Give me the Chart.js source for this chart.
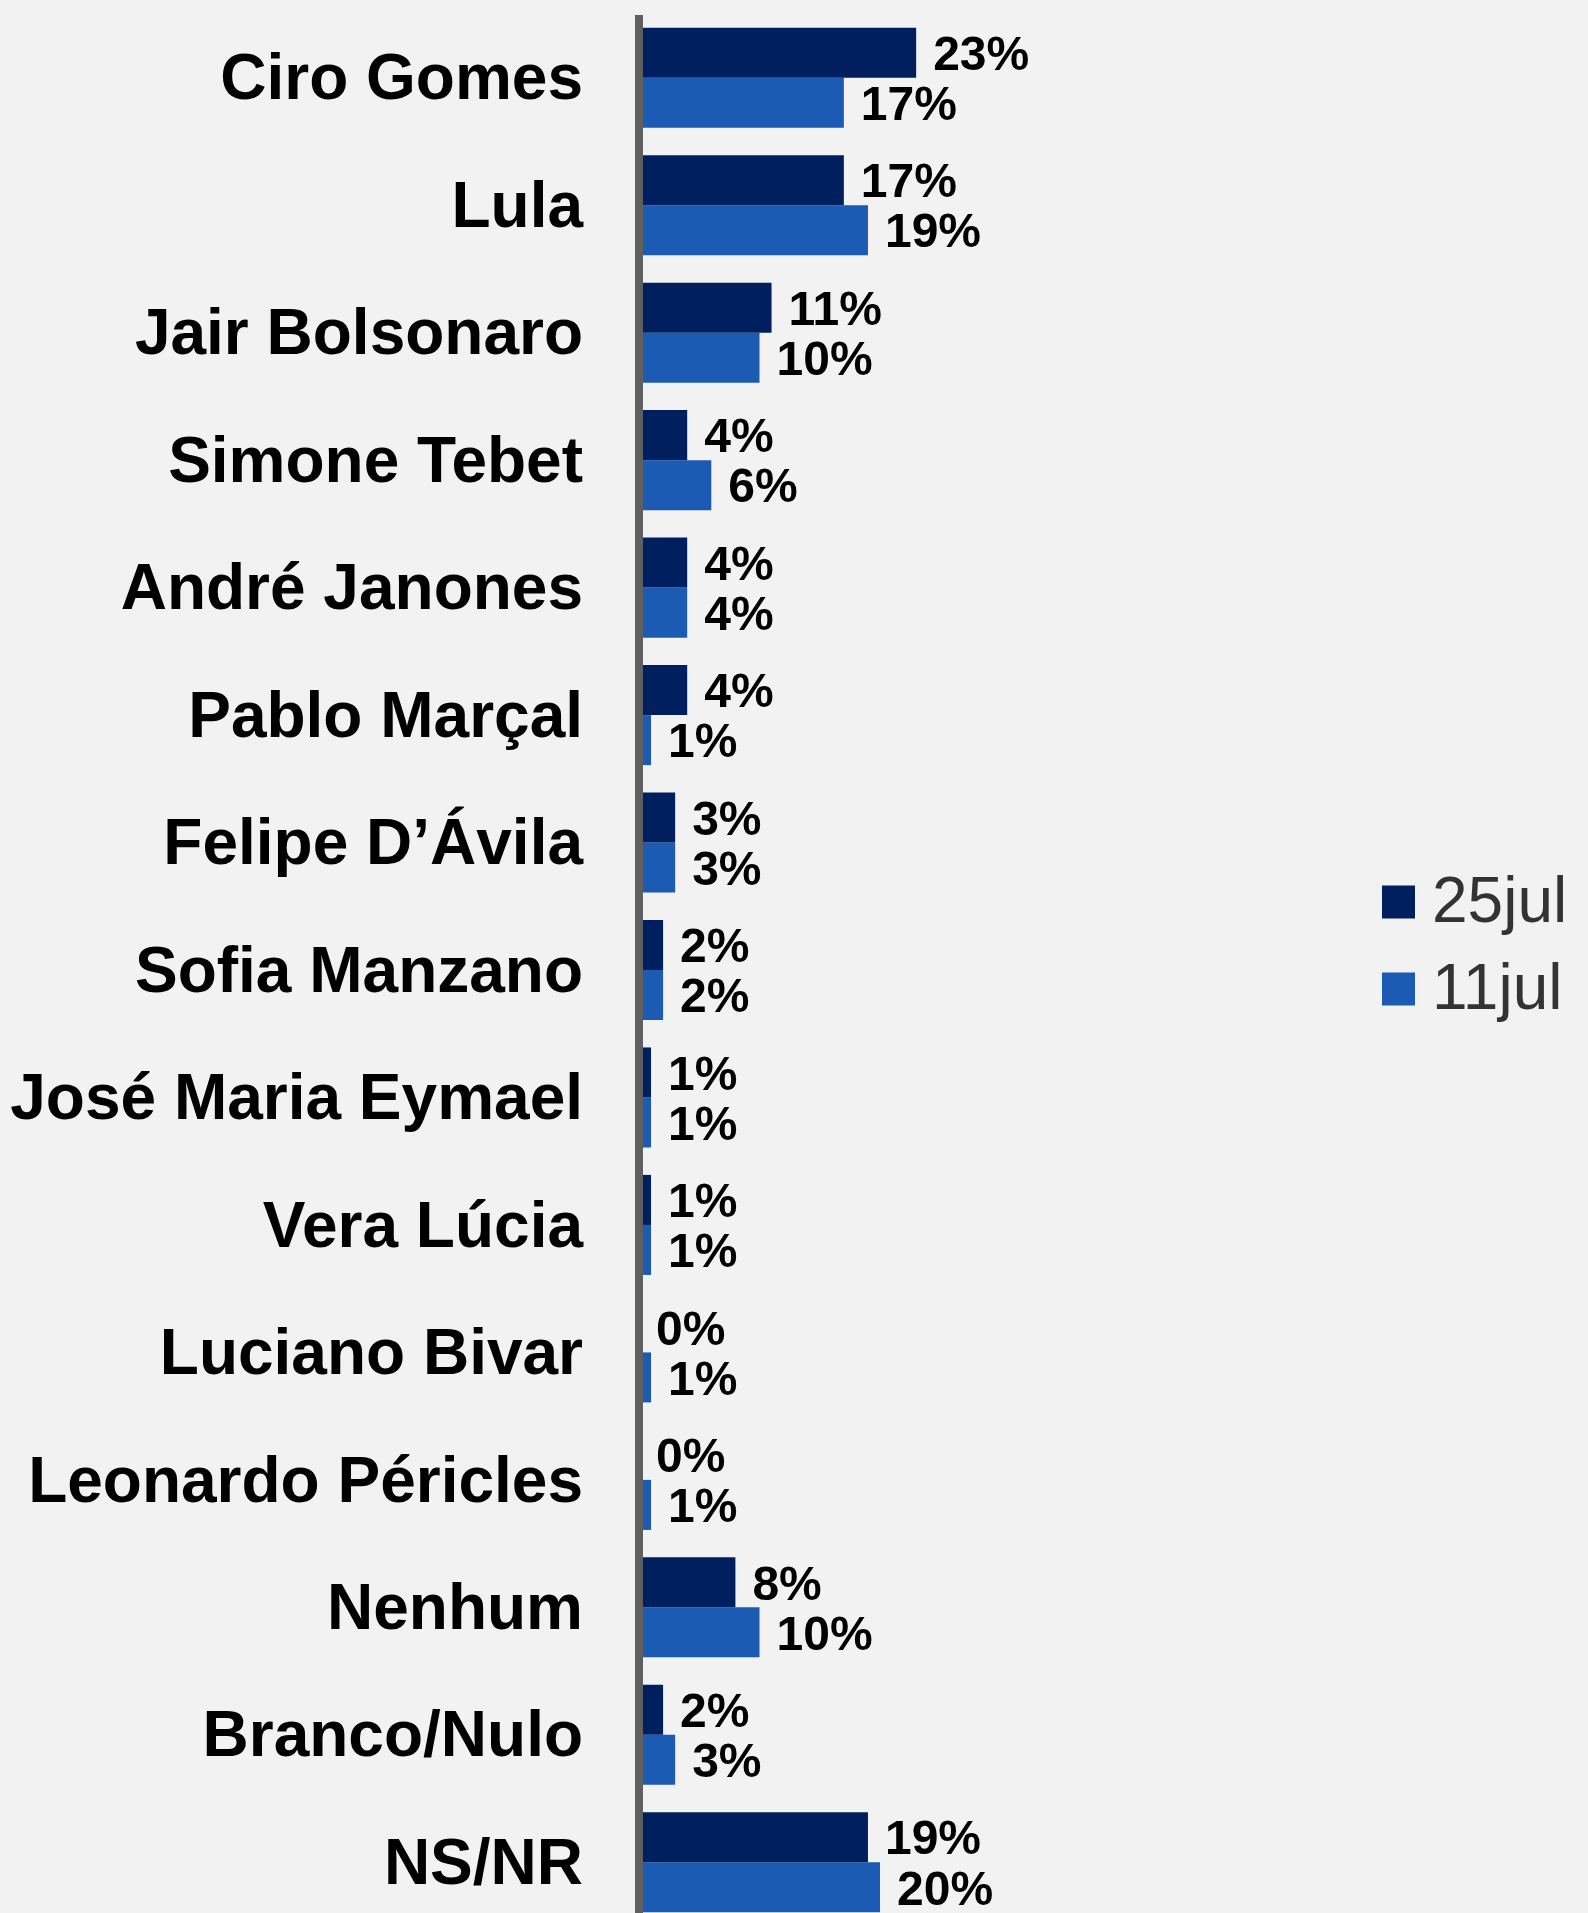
<!DOCTYPE html>
<html>
<head>
<meta charset="utf-8">
<script src="https://cdn.jsdelivr.net/npm/chart.js@4.4.1/dist/chart.umd.min.js"></script>
<style>
  html, body { margin: 0; padding: 0; background: #f2f2f2; overflow: hidden; }
  #wrap { width: 1588px; height: 1926px; }
  canvas { background: #f2f2f2; }
</style>
</head>
<body>
<div id="wrap"><canvas id="pollChart" width="1588" height="1926"></canvas></div>
<script>
const candidates = [
  "Ciro Gomes", "Lula", "Jair Bolsonaro", "Simone Tebet", "André Janones",
  "Pablo Marçal", "Felipe D’Ávila", "Sofia Manzano", "José Maria Eymael",
  "Vera Lúcia", "Luciano Bivar", "Leonardo Péricles", "Nenhum", "Branco/Nulo", "NS/NR"
];
const jul25 = [23, 17, 11, 4, 4, 4, 3, 2, 1, 1, 0, 0, 8, 2, 19];
const jul11 = [17, 19, 10, 6, 4, 1, 3, 2, 1, 1, 1, 1, 10, 3, 20];
const seriesNames = ["25jul", "11jul"];

const fontFamily = '"Liberation Sans", Arial, sans-serif';

// rótulos de valor + linha do eixo por cima das barras
const valueLabels = {
  id: "valueLabels",
  afterDatasetsDraw(chart) {
    const ctx = chart.ctx;
    const x0 = chart.scales.x.getPixelForValue(0);
    ctx.save();
    ctx.strokeStyle = "#5f5f5f";
    ctx.lineWidth = 8;
    ctx.beginPath();
    ctx.moveTo(x0, chart.chartArea.top + 1);
    ctx.lineTo(x0, chart.height);
    ctx.stroke();

    ctx.font = "bold 48px " + fontFamily;
    ctx.fillStyle = "#000";
    ctx.textBaseline = "middle";
    chart.data.datasets.forEach((ds, i) => {
      chart.getDatasetMeta(i).data.forEach((bar, j) => {
        ctx.fillText(ds.data[j] + "%", bar.x + 17, bar.y + 4);
      });
    });
    ctx.restore();
  }
};

const sideLegend = {
  id: "sideLegend",
  afterDraw(chart, args, opts) {
    const ctx = chart.ctx;
    ctx.save();
    ctx.font = "64px " + fontFamily;
    ctx.textBaseline = "middle";
    chart.data.datasets.forEach((ds, i) => {
      const cy = opts.y + i * opts.rowGap;
      ctx.fillStyle = ds.backgroundColor;
      ctx.fillRect(opts.x, cy - opts.box / 2, opts.box, opts.box);
      ctx.fillStyle = opts.color;
      ctx.fillText(ds.label, opts.x + opts.box + opts.gap, cy + 2);
    });
    ctx.restore();
  }
};

const chart = new Chart(document.getElementById("pollChart"), {
  type: "bar",
  data: {
    labels: candidates,
    datasets: [
      { label: seriesNames[0], data: jul25, backgroundColor: "#001f5f" },
      { label: seriesNames[1], data: jul11, backgroundColor: "#1b5bb4" }
    ]
  },
  options: {
    indexAxis: "y",
    responsive: false,
    animation: false,
    devicePixelRatio: 1,
    categoryPercentage: 0.785,
    barPercentage: 1,
    layout: { padding: { top: 14, right: 226, bottom: 0, left: 0 } },
    scales: {
      x: { min: 0, max: 60, display: false },
      y: {
        grid: { display: false, drawTicks: false },
        border: { display: false },
        ticks: {
          padding: 56,
          labelOffset: 4,
          color: "#000",
          font: { family: fontFamily, size: 64, weight: "bold" }
        },
        afterFit(scale) {
          scale.width = 639;
          scale.paddingTop = 0;
          scale.paddingBottom = 0;
        }
      }
    },
    plugins: {
      legend: { display: false },
      tooltip: { enabled: false },
      sideLegend: { x: 1382, y: 902, rowGap: 87, box: 33, gap: 17, color: "#333333" }
    }
  },
  plugins: [valueLabels, sideLegend]
});
</script>
</body>
</html>
